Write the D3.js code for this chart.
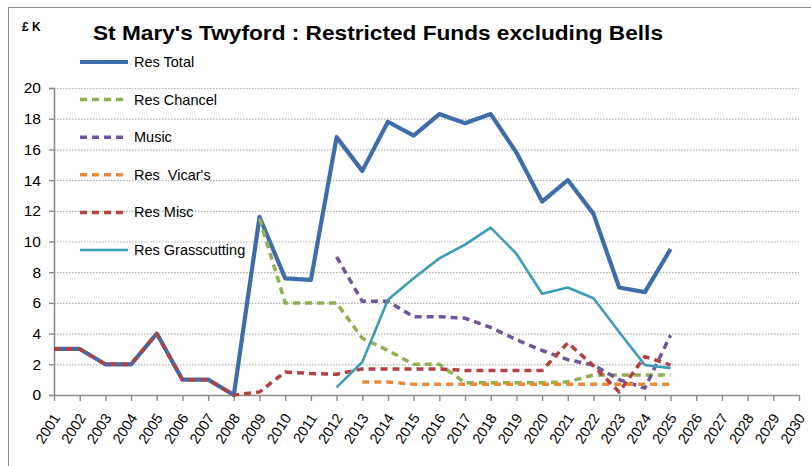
<!DOCTYPE html>
<html lang="en">
<head>
<meta charset="UTF-8">
<title>St Mary's Twyford</title>
<style>
  body { margin: 0; background: #fff; }
  svg text { font-family: "Liberation Sans", Arial, sans-serif; fill: #000; }
</style>
</head>
<body>
<div id="chart"></div>
<script src="https://d3js.org/d3.v7.min.js"></script>
<script>
const years = d3.range(2001, 2031).map(String);

const resTotal = [3, 3, 2, 2, 4, 1, 1, 0, 11.6, 7.6, 7.5, 16.8, 14.6, 17.8, 16.9, 18.3, 17.7, 18.3, 15.8, 12.6, 14.0, 11.8, 7.0, 6.7, 9.5];
const resChancel = [null, null, null, null, null, null, null, null, 11.5, 6.0, 6.0, 6.0, 3.7, 2.9, 2.0, 2.0, 0.8, 0.8, 0.8, 0.8, 0.85, 1.3, 1.3, 1.3, 1.3];
const music = [null, null, null, null, null, null, null, null, null, null, null, 9.0, 6.1, 6.1, 5.1, 5.1, 5.0, 4.4, 3.6, 2.9, 2.3, 1.95, 1.0, 0.45, 3.9];
const resVicars = [null, null, null, null, null, null, null, null, null, null, null, null, 0.85, 0.85, 0.7, 0.7, 0.7, 0.7, 0.7, 0.7, 0.7, 0.7, 0.7, 0.7, 0.7];
const resMisc = [3, 3, 2, 2, 4, 1, 1, 0, 0.2, 1.5, 1.4, 1.35, 1.7, 1.7, 1.7, 1.7, 1.6, 1.6, 1.6, 1.6, 3.4, 1.9, 0.2, 2.5, 1.95];
const resGrass = [null, null, null, null, null, null, null, null, null, null, null, 0.5, 2.15, 6.2, 7.6, 8.9, 9.8, 10.9, 9.2, 6.6, 7.0, 6.3, 4.1, 1.95, 1.75];

const yTicks = [0, 2, 4, 6, 8, 10, 12, 14, 16, 18, 20];

const series = [
  { name: "Res Total", values: resTotal, color: "#3F6DA9", width: 4.2, dash: null },
  { name: "Res Chancel", values: resChancel, color: "#8FB04F", width: 3.5, dash: "7,5" },
  { name: "Music", values: music, color: "#71559A", width: 3.5, dash: "7,5" },
  { name: "Res  Vicar's", values: resVicars, color: "#E8893C", width: 3.5, dash: "7,5" },
  { name: "Res Misc", values: resMisc, color: "#B2413F", width: 3.5, dash: "7,5" },
  { name: "Res Grasscutting", values: resGrass, color: "#3C9DB6", width: 2.6, dash: null }
];

const W = 811, H = 466;
const plotLeft = 54, plotRight = 799, plotTop = 88, plotBottom = 395;

const svg = d3.select("#chart").append("svg")
  .attr("width", W).attr("height", H);

svg.append("rect")
  .attr("x", 8.5).attr("y", 7.5)
  .attr("width", 820).attr("height", 480)
  .attr("fill", "none").attr("stroke", "#8c8c8c").attr("stroke-width", 1);

const x = d3.scalePoint().domain(years).range([plotLeft, plotRight]);
const y = d3.scaleLinear().domain([0, 20]).range([plotBottom, plotTop]);

// gridlines
svg.append("g").selectAll("line")
  .data(yTicks.filter(d => d > 0))
  .enter().append("line")
  .attr("x1", plotLeft).attr("x2", plotRight)
  .attr("y1", d => y(d) + 0.5).attr("y2", d => y(d) + 0.5)
  .attr("stroke", "#b0b0b0").attr("stroke-width", 1.2)
  .attr("stroke-dasharray", "1.5,1.5");

// y axis
const yAxis = svg.append("g")
  .attr("transform", `translate(${plotLeft},0)`)
  .call(d3.axisLeft(y).tickValues(yTicks).tickSize(5).tickPadding(8));
yAxis.select(".domain").attr("stroke", "#8c8c8c").attr("stroke-width", 1.6);
yAxis.selectAll(".tick line").attr("stroke", "#8c8c8c").attr("stroke-width", 1.4);
yAxis.selectAll(".tick text").attr("font-size", 15.5).attr("fill", "#000")
  .style("font-family", "Liberation Sans, Arial, sans-serif");

// x axis
const xAxis = svg.append("g")
  .attr("transform", `translate(0,${plotBottom})`)
  .call(d3.axisBottom(x).tickSize(6).tickSizeOuter(0));
xAxis.select(".domain").attr("stroke", "#8c8c8c").attr("stroke-width", 1.6);
xAxis.selectAll(".tick line").attr("stroke", "#8c8c8c").attr("stroke-width", 1.4);
xAxis.selectAll(".tick text")
  .attr("font-size", 14.5)
  .attr("fill", "#000")
  .style("font-family", "Liberation Sans, Arial, sans-serif")
  .attr("text-anchor", "end")
  .attr("dy", "0.35em")
  .attr("transform", "translate(2,20) rotate(-57)")
  .attr("y", 0).attr("x", 0);

// lines
const line = d3.line()
  .defined(d => d.v !== null)
  .x(d => x(d.year))
  .y(d => y(d.v));

svg.append("g").selectAll("path")
  .data(series)
  .enter().append("path")
  .attr("d", s => line(s.values.map((v, i) => ({ year: years[i], v: v }))))
  .attr("fill", "none")
  .attr("stroke", s => s.color)
  .attr("stroke-width", s => s.width)
  .attr("stroke-linejoin", "round")
  .attr("stroke-dasharray", s => s.dash);

// legend
const legend = svg.append("g").selectAll("g")
  .data(series)
  .enter().append("g")
  .attr("transform", (d, i) => `translate(80,${62 + i * 37.6})`);

legend.append("line")
  .attr("x1", 0).attr("x2", 48)
  .attr("stroke", d => d.color)
  .attr("stroke-width", d => d.width)
  .attr("stroke-dasharray", d => d.dash);

legend.append("text")
  .attr("x", 54).attr("y", 5)
  .attr("font-size", 14.5)
  .style("white-space", "pre")
  .text(d => d.name);

// titles
svg.append("text")
  .attr("x", 93).attr("y", 40)
  .attr("font-size", 21)
  .attr("font-weight", "bold")
  .attr("textLength", 570)
  .attr("lengthAdjust", "spacingAndGlyphs")
  .text("St Mary's Twyford : Restricted Funds excluding Bells");

svg.append("text")
  .attr("x", 22).attr("y", 31)
  .attr("font-size", 12)
  .attr("font-weight", "bold")
  .text("£ K");
</script>
</body>
</html>
